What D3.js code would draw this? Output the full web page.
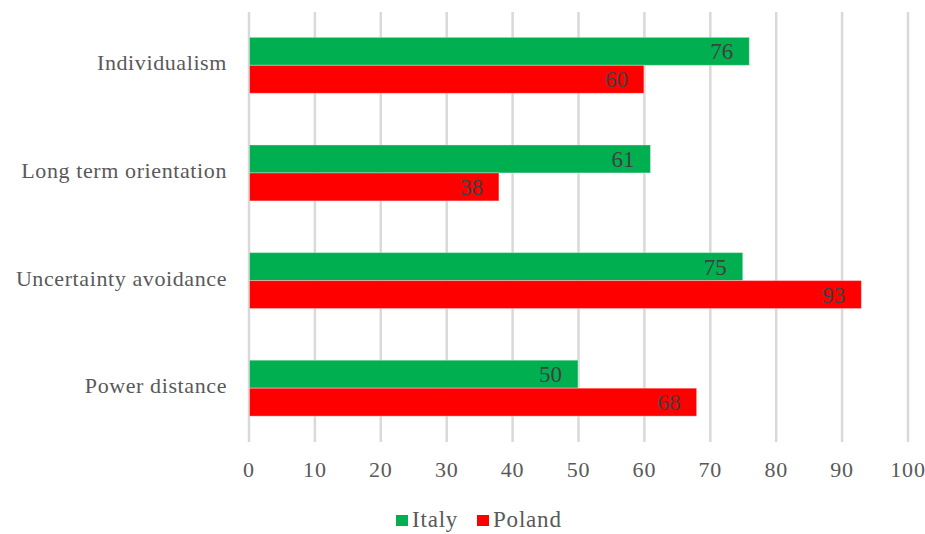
<!DOCTYPE html>
<meta charset="utf-8">
<head>
<script src="https://d3js.org/d3.v7.min.js"></script>
<style>
  body { margin: 0; background: #fff; }
  text { font-family: "Liberation Serif", "Times New Roman", serif; }
</style>
</head>
<body>
<div id="my_dataviz"></div>
<script>

    // data
    var categories = ["Individualism", "Long term orientation", "Uncertainty avoidance", "Power distance"];
    var seriesNames = ["Italy", "Poland"];
    var italy = [76, 61, 75, 50];
    var poland = [60, 38, 93, 68];
    var colors = ["#00B050", "#FF0000"];
    var xTicks = [0, 10, 20, 30, 40, 50, 60, 70, 80, 90, 100];

    var width = 925, height = 534;

    var svg = d3.select("#my_dataviz")
      .append("svg")
        .attr("width", width)
        .attr("height", height);

    // scales
    var x = d3.scaleLinear()
      .domain([0, 100])
      .range([248.5, 907.5]);

    var y = d3.scaleBand()
      .domain(categories)
      .range([11.5, 442])
      .paddingInner(0.48)
      .paddingOuter(0.24);

    var ySub = d3.scaleBand()
      .domain(seriesNames)
      .range([0, y.bandwidth()]);

    // gridlines + tick labels
    var xAxis = svg.append("g")
      .attr("transform", "translate(0,442)")
      .call(d3.axisBottom(x).tickValues(xTicks).tickSize(-430).tickFormat(d3.format("d")));
    xAxis.select(".domain").remove();
    xAxis.selectAll(".tick line")
      .attr("stroke", "#d9d9d9")
      .attr("stroke-width", 2.5);
    xAxis.selectAll(".tick text")
      .attr("y", 35)
      .attr("dy", 0)
      .attr("fill", "#595959")
      .style("font-size", "22px")
      .style("letter-spacing", "0.8px");

    // category labels
    svg.append("g")
      .selectAll("text")
      .data(categories)
      .enter()
      .append("text")
        .attr("x", 227)
        .attr("y", function (d) { return y(d) + y.bandwidth() / 2 + 5; })
        .attr("text-anchor", "end")
        .attr("fill", "#595959")
        .style("font-size", "22px")
        .style("letter-spacing", "0.6px")
        .text(function (d) { return d; });

    // bars
    var rows = categories.map(function (c, i) {
      return { cat: c, values: [ { s: "Italy", v: italy[i] }, { s: "Poland", v: poland[i] } ] };
    });

    var groups = svg.append("g")
      .selectAll("g")
      .data(rows)
      .enter()
      .append("g")
        .attr("transform", function (d) { return "translate(0," + y(d.cat) + ")"; });

    groups.selectAll("rect")
      .data(function (d) { return d.values; })
      .enter()
      .append("rect")
        .attr("x", x(0) + 1)
        .attr("y", function (d) { return ySub(d.s); })
        .attr("width", function (d) { return x(d.v) - x(0) - 1; })
        .attr("height", ySub.bandwidth())
        .attr("fill", function (d, i) { return colors[i]; })
        .attr("stroke", "#ffffff")
        .attr("stroke-opacity", 0.35)
        .attr("stroke-width", 1);

    groups.selectAll("text")
      .data(function (d) { return d.values; })
      .enter()
      .append("text")
        .attr("x", function (d) { return x(d.v) - 16; })
        .attr("y", function (d) { return ySub(d.s) + ySub.bandwidth() / 2 + 8; })
        .attr("text-anchor", "end")
        .attr("fill", "#404040")
        .style("font-size", "23px")
        .text(function (d) { return d.v; });

    // legend
    var legendX = [396, 477];
    var legend = svg.append("g")
      .selectAll("g")
      .data(seriesNames)
      .enter()
      .append("g")
        .attr("transform", function (d, i) { return "translate(" + legendX[i] + ",515)"; });
    legend.append("rect")
      .attr("width", 12)
      .attr("height", 11)
      .attr("fill", function (d, i) { return colors[i]; });
    legend.append("text")
      .attr("x", 16)
      .attr("y", 12)
      .attr("fill", "#595959")
      .style("font-size", "23px")
      .style("letter-spacing", "0.8px")
      .text(function (d) { return d; });

</script>
</body>
</html>
